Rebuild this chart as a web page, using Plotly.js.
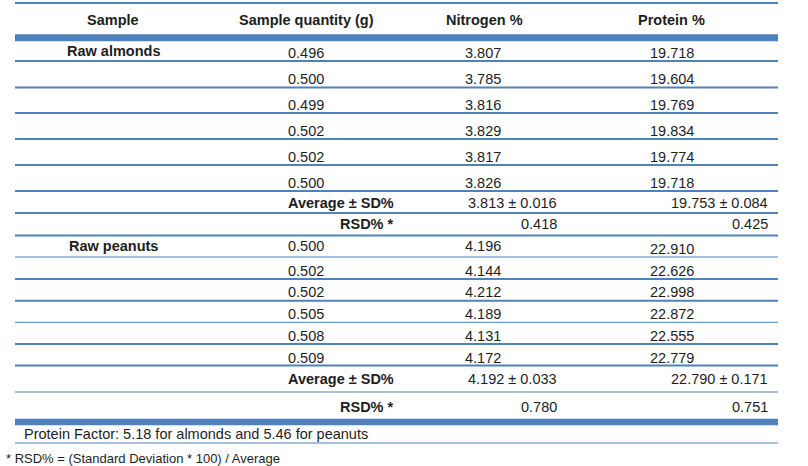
<!DOCTYPE html>
<html>
<head>
<meta charset="utf-8">
<script src="https://cdn.plot.ly/plotly-3.0.1.min.js"></script>
<style>
html,body{margin:0;padding:0;background:#fff;}
#chart{width:808px;height:466px;}
</style>
</head>
<body>
<div id="chart"></div>
<script>
// ---------- data ----------
const headers = ['Sample', 'Sample quantity (g)', 'Nitrogen %', 'Protein %'];
const samples = ['Raw almonds', 'Raw peanuts'];
const almondQty = [0.496, 0.500, 0.499, 0.502, 0.502, 0.500];
const almondN = [3.807, 3.785, 3.816, 3.829, 3.817, 3.826];
const almondP = [19.718, 19.604, 19.769, 19.834, 19.774, 19.718];
const peanutQty = [0.500, 0.502, 0.502, 0.505, 0.508, 0.509];
const peanutN = [4.196, 4.144, 4.212, 4.189, 4.131, 4.172];
const peanutP = [22.910, 22.626, 22.998, 22.872, 22.555, 22.779];
const avgN = [3.813, 4.192];
const sdN = [0.016, 0.033];
const avgP = [19.753, 22.790];
const sdP = [0.084, 0.171];
const rsdN = [0.418, 0.780];
const rsdP = [0.425, 0.751];
const statLabels = ['Average \u00b1 SD%', 'RSD% *'];
const factorNote = 'Protein Factor: 5.18 for almonds and 5.46 for peanuts';
const rsdNote = '* RSD% = (Standard Deviation * 100) / Average';

// ---------- layout constants (positions / styles) ----------
const BLUE = '#4f81bd';
const TXT = '#1e1e1e';
const FONT = 'Liberation Sans, Arial, sans-serif';
const FS = 14.5;
const X0 = 15, X1 = 778;
const PADX = 2;
const colCenter = [113, 306, 484, 671];
const colLeft = [67, 288, 465, 650];
const labelRight = 394, nRight = 557, pRight = 768;
const headerY = 20;
const almondRowY = [53, 79, 105, 131, 157, 183];
const peanutRowY = [246, 271, 292, 313.5, 336, 358];
const peanutProtY = [249, 271, 292, 313.5, 336, 358];
const almondStatY = [202.5, 224];
const peanutStatY = [379, 406.5];
const sampleLabelY = [51, 246];
const sampleLabelX = [67, 68.5];
// rules: [y, width]
const rules = [
  [3, 2], [37.7, 7], [61, 2], [87.5, 2], [113, 2], [139, 2], [165, 2], [191, 2],
  [213, 2], [235.5, 2], [257, 1], [279, 2], [300.7, 2], [322.3, 1], [344, 2],
  [365.5, 2], [392, 1], [422, 6.5], [443, 1]
];

const f3 = v => v.toFixed(3);
const ann = [];
function add(text, x, y, xanchor, bold, size) {
  const dx = xanchor === 'left' ? -PADX : (xanchor === 'right' ? PADX : 0);
  ann.push({
    text: bold ? '<b>' + text + '</b>' : text,
    x: x + dx, y: y, xref: 'x', yref: 'y',
    xanchor: xanchor, yanchor: 'middle',
    showarrow: false,
    font: {family: FONT, size: size || FS, color: TXT}
  });
}

headers.forEach((h, i) => add(h, colCenter[i], headerY, 'center', true));
samples.forEach((s, i) => add(s, sampleLabelX[i], sampleLabelY[i], 'left', true));

almondQty.forEach((v, i) => {
  add(f3(v), colLeft[1], almondRowY[i], 'left');
  add(f3(almondN[i]), colLeft[2], almondRowY[i], 'left');
  add(f3(almondP[i]), colLeft[3], almondRowY[i], 'left');
});
peanutQty.forEach((v, i) => {
  add(f3(v), colLeft[1], peanutRowY[i], 'left');
  add(f3(peanutN[i]), colLeft[2], peanutRowY[i], 'left');
  add(f3(peanutP[i]), colLeft[3], peanutProtY[i], 'left');
});
[almondStatY, peanutStatY].forEach((ys, g) => {
  add(statLabels[0], labelRight, ys[0], 'right', true);
  add(f3(avgN[g]) + ' \u00b1 ' + f3(sdN[g]), nRight, ys[0], 'right');
  add(f3(avgP[g]) + ' \u00b1 ' + f3(sdP[g]), pRight, ys[0], 'right');
  add(statLabels[1], labelRight, ys[1], 'right', true);
  add(f3(rsdN[g]), nRight, ys[1], 'right');
  add(f3(rsdP[g]), pRight, ys[1], 'right');
});
add(factorNote, 24, 434, 'left');
add(rsdNote, 6, 458, 'left', false, 13);

const shapes = rules.map(r => ({
  type: 'line', xref: 'x', yref: 'y',
  x0: X0, x1: X1, y0: r[0], y1: r[0],
  line: {color: BLUE, width: r[1]}
}));

const data = [{x: [0], y: [0], type: 'scatter', mode: 'markers',
  marker: {opacity: 0}, hoverinfo: 'skip', showlegend: false}];

const layout = {
  width: 808, height: 466,
  margin: {l: 0, r: 0, t: 0, b: 0, pad: 0},
  paper_bgcolor: '#ffffff', plot_bgcolor: '#ffffff',
  xaxis: {range: [0, 808], visible: false, fixedrange: true},
  yaxis: {range: [466, 0], visible: false, fixedrange: true},
  shapes: shapes,
  annotations: ann,
  showlegend: false
};

Plotly.newPlot('chart', data, layout, {staticPlot: true, displayModeBar: false});
</script>
</body>
</html>
